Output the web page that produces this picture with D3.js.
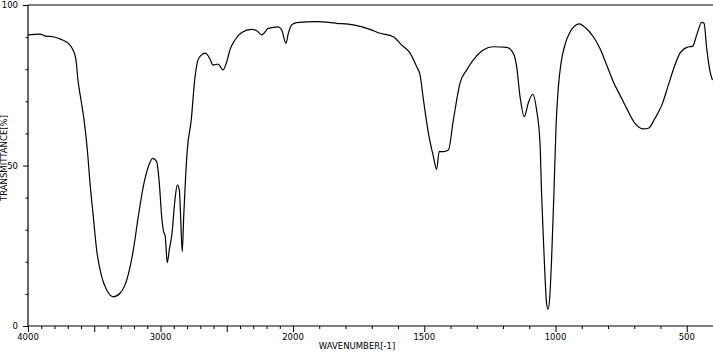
<!DOCTYPE html>
<html>
<head>
<meta charset="utf-8">
<script src="https://cdn.jsdelivr.net/npm/d3@7"></script>
<style>
  html, body { margin: 0; padding: 0; background: #fff; }
  svg text { font-family: "DejaVu Sans", sans-serif; font-size: 8.5px; fill: #000; }
</style>
</head>
<body>
<svg id="chart" width="713" height="359"></svg>
<script>
// Spectrum data: wavenumber (cm-1) and transmittance (%)
const wavenumbers = [4000,3909,3864,3811,3751,3698,3660,3638,3623,3600,3577,3552,3532,3507,3482,3444,3406,3356,3306,3255,3205,3168,3130,3092,3059,3029,3009,2991,2979,2964,2949,2934,2913,2891,2873,2858,2848,2836,2825,2813,2798,2768,2742,2717,2692,2662,2629,2604,2566,2528,2496,2476,2438,2387,2312,2274,2236,2186,2111,2085,2053,2035,2010,1986,1910,1834,1770,1707,1669,1618,1586,1554,1529,1516,1503,1484,1465,1453,1443,1427,1408,1389,1364,1338,1313,1275,1237,1186,1161,1148,1135,1119,1104,1087,1072,1059,1053,1047,1040,1034,1028,1021,1015,1006,998,989,979,966,947,909,890,856,831,805,780,755,729,697,666,646,621,595,570,545,526,500,477,462,443,434,424,411,402];
const transmittance = [90.7,90.9,90.3,90.1,89.3,88.1,86.0,82.9,76.6,70.4,64.2,54.8,44.5,34.0,23.7,15.4,11.2,9.1,10.2,14.3,23.7,34.0,43.4,49.6,52.2,51.2,44.5,34.0,29.9,27.8,19.7,23.7,28.9,39.3,43.9,42.4,34.0,23.1,34.0,44.5,54.8,64.2,76.6,82.9,84.4,85.0,83.4,81.3,81.6,79.8,82.9,86.0,89.1,91.4,92.4,92.0,90.7,92.7,93.2,92.2,88.1,91.2,93.8,94.5,94.8,94.3,93.8,92.4,91.2,90.1,87.5,85.0,80.8,78.2,70.4,60.0,52.7,48.8,54.3,54.3,54.8,64.2,75.6,79.8,82.9,86.0,87.0,86.8,85.0,80.8,71.4,65.2,69.4,72.2,67.3,56.9,41.3,28.9,15.4,7.1,5.2,10.2,20.6,41.3,62.1,74.5,81.9,87.0,91.2,94.1,93.2,90.1,86.5,81.3,76.1,72.0,67.8,63.1,61.4,61.6,64.7,68.8,75.1,81.3,85.0,86.8,87.2,90.7,94.6,94.3,86.5,79.2,76.6];

const xTickLabels = [4000, 3000, 2000, 1500, 1000, 500];
const yTickLabels = [0, 50, 100];
const xAxisTitle = "WAVENUMBER[-1]";
const yAxisTitle = "TRANSMITTANCE[%]";

(function () {
const svg = d3.select("#chart");
const mLeft = 28, mRight = 713, mTop = 5, mBottom = 326;

// Piecewise scale: 4000-2000 compressed, 2000-400 expanded
const x = d3.scaleLinear().domain([4000, 2000, 400]).range([mLeft, 293, mRight]);
const y = d3.scaleLinear().domain([0, 100]).range([mBottom, mTop]);

// Top frame line
svg.append("line").attr("x1", mLeft).attr("x2", mRight).attr("y1", mTop).attr("y2", mTop)
  .attr("stroke", "#000").attr("stroke-width", 1.2);

// X axis
const xMinor = d3.range(400, 4001, 100);
const xAxis = d3.axisBottom(x).tickValues(xMinor).tickSize(3).tickFormat("");
const gx = svg.append("g").attr("transform", `translate(0,${mBottom})`).call(xAxis);
gx.select(".domain").attr("stroke", "#000").attr("stroke-width", 1.2).attr("d", `M${mLeft},0H${mRight}`);
gx.selectAll(".tick line").attr("stroke", "#000").attr("stroke-width", 1)
  .attr("y2", d => d % 500 === 0 ? 6 : 3);

svg.append("g").selectAll("text").data(xTickLabels).join("text")
  .attr("x", d => x(d)).attr("y", mBottom + 14)
  .attr("text-anchor", "middle").text(d => d);

svg.append("text").attr("x", 357).attr("y", mBottom + 23)
  .attr("text-anchor", "middle").text(xAxisTitle);

// Y axis
const yMinor = d3.range(0, 101, 10);
const yAxis = d3.axisLeft(y).tickValues(yMinor).tickSize(2.5).tickFormat("");
const gy = svg.append("g").attr("transform", `translate(${mLeft},0)`).call(yAxis);
gy.select(".domain").attr("stroke", "#000").attr("stroke-width", 1.2).attr("d", `M0,${mTop}V${mBottom}`);
gy.selectAll(".tick line").attr("stroke", "#000").attr("stroke-width", 1)
  .attr("x2", d => d % 50 === 0 ? -5 : -2.5);

svg.append("g").selectAll("text").data(yTickLabels).join("text")
  .attr("x", mLeft - 10).attr("y", d => y(d) + 3)
  .attr("text-anchor", "end").text(d => d);

svg.append("text")
  .attr("transform", `translate(7,158) rotate(-90)`)
  .attr("text-anchor", "middle").text(yAxisTitle);

// Spectrum
const data = wavenumbers.map((w, i) => ({ w, t: transmittance[i] }));
const line = d3.line().x(d => x(d.w)).y(d => y(d.t)).curve(d3.curveMonotoneX);
svg.append("path").datum(data)
  .attr("fill", "none").attr("stroke", "#000").attr("stroke-width", 1.2)
  .attr("d", line);
})();
</script>
</body>
</html>
